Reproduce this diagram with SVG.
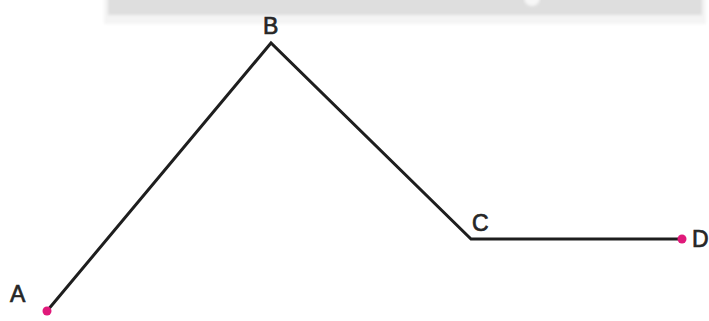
<svg xmlns="http://www.w3.org/2000/svg" width="709" height="321" viewBox="0 0 709 321">
  <style>
    .lbl { font-family: "Liberation Sans", Arial, sans-serif; font-size: 23px; fill: #262626; stroke: #262626; stroke-width: 0.7px; }
    .seg { fill: none; stroke: #1e1e1e; stroke-width: 3; stroke-linejoin: miter; stroke-linecap: butt; }
    .pt { fill: #e0197a; }
  </style>
  <defs>
    <filter id="soft" x="-5%" y="-50%" width="110%" height="200%">
      <feGaussianBlur stdDeviation="1.5"/>
    </filter>
  </defs>
  <g id="bar">
    <rect x="104" y="-6" width="602" height="30" fill="#f4f4f4" filter="url(#soft)"/>
    <rect x="108" y="-6" width="594" height="21" fill="#dedede" filter="url(#soft)"/>
    <circle cx="532" cy="-2" r="8" fill="#f7f7f7" filter="url(#soft)"/>
  </g>
  <g id="connectors">
    <polyline class="seg" points="47,311 271,43 471,239 682,239"/>
  </g>
  <g id="A">
    <circle class="pt" cx="47" cy="311" r="4.5"/>
    <text class="lbl" x="10" y="302">A</text>
  </g>
  <g id="B">
    <text class="lbl" x="263" y="34">B</text>
  </g>
  <g id="C">
    <text class="lbl" x="472" y="231">C</text>
  </g>
  <g id="D">
    <circle class="pt" cx="682" cy="239" r="4.5"/>
    <text class="lbl" x="692" y="247">D</text>
  </g>
</svg>
